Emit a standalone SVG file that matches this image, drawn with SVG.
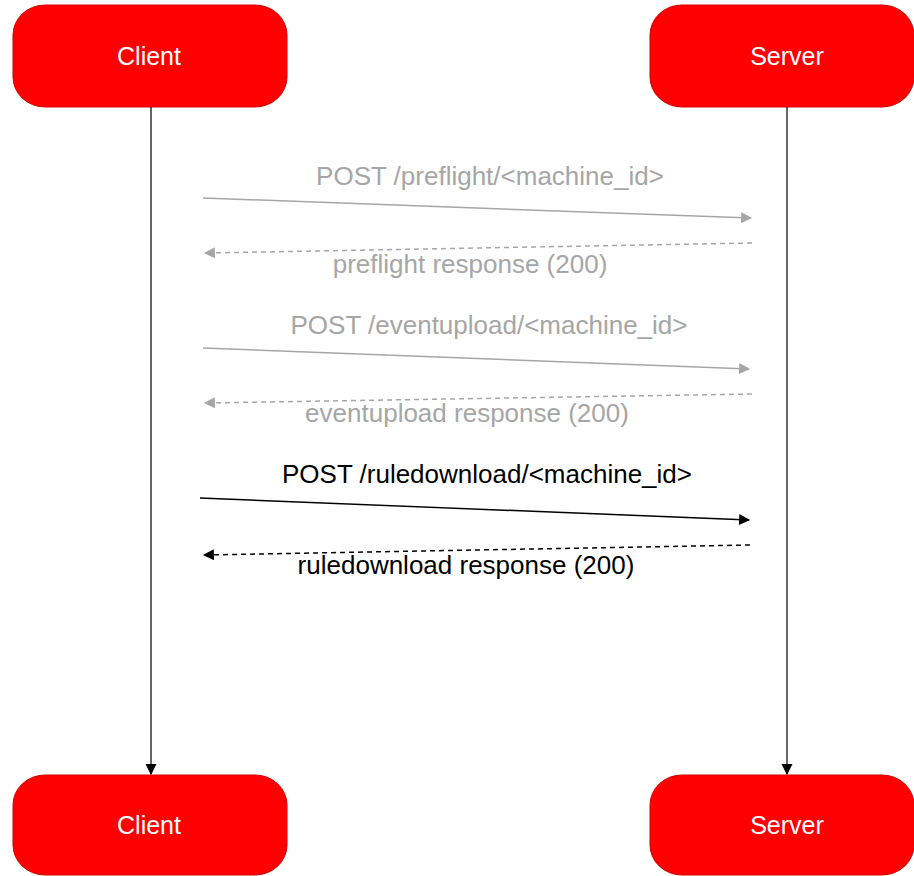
<svg xmlns="http://www.w3.org/2000/svg" width="914" height="876" viewBox="0 0 914 876">
<style>
.box{fill:#ff0000;stroke:#d40000;stroke-width:1}
.lbl{font-family:"Liberation Sans",Arial,sans-serif;font-size:25px;fill:#ffffff;text-anchor:middle}
.msg{font-family:"Liberation Sans",Arial,sans-serif;font-size:26px;text-anchor:middle}
.gray{fill:#a6a6a6}
.blk{fill:#000000}
</style>
<defs>
<marker id="ab" viewBox="0 0 10 10" refX="9" refY="5" markerWidth="11" markerHeight="14" markerUnits="userSpaceOnUse" orient="auto"><path d="M0,0 L10,5 L0,10 z" fill="#000"/></marker>
<marker id="ag" viewBox="0 0 10 10" refX="9" refY="5" markerWidth="13" markerHeight="11" markerUnits="userSpaceOnUse" orient="auto"><path d="M0,0 L10,5 L0,10 z" fill="#a6a6a6"/></marker>
<marker id="ak" viewBox="0 0 10 10" refX="9" refY="5" markerWidth="13" markerHeight="11" markerUnits="userSpaceOnUse" orient="auto"><path d="M0,0 L10,5 L0,10 z" fill="#000"/></marker>
</defs>
<rect width="914" height="876" fill="#fff"/>
<g id="client-top"><rect class="box" x="13" y="5" width="274" height="102" rx="32" ry="30"/><text class="lbl" x="149" y="65">Client</text></g>
<g id="server-top"><rect class="box" x="650" y="5" width="264" height="102" rx="32" ry="30"/><text class="lbl" x="787" y="65">Server</text></g>
<g id="client-bottom"><rect class="box" x="13" y="775" width="274" height="100" rx="32" ry="30"/><text class="lbl" x="149" y="834">Client</text></g>
<g id="server-bottom"><rect class="box" x="650" y="775" width="264" height="100" rx="32" ry="30"/><text class="lbl" x="787" y="834">Server</text></g>
<g id="connectors" fill="none">
<line x1="151" y1="107" x2="151" y2="774" stroke="#000" stroke-width="1.2" marker-end="url(#ab)"/>
<line x1="787" y1="107" x2="787" y2="774" stroke="#000" stroke-width="1.2" marker-end="url(#ab)"/>
<line x1="203" y1="198" x2="751" y2="218" stroke="#a6a6a6" stroke-width="1.5" marker-end="url(#ag)"/>
<line x1="752" y1="243" x2="205" y2="253" stroke="#a6a6a6" stroke-width="1.5" stroke-dasharray="5,4" marker-end="url(#ag)"/>
<line x1="203" y1="348" x2="749" y2="369" stroke="#a6a6a6" stroke-width="1.5" marker-end="url(#ag)"/>
<line x1="752" y1="394" x2="205" y2="403" stroke="#a6a6a6" stroke-width="1.5" stroke-dasharray="5,4" marker-end="url(#ag)"/>
<line x1="200" y1="498" x2="749" y2="520" stroke="#000" stroke-width="1.5" marker-end="url(#ak)"/>
<line x1="750" y1="545" x2="204" y2="555" stroke="#000" stroke-width="1.5" stroke-dasharray="5,4" marker-end="url(#ak)"/>
</g>
<g id="labels">
<text class="msg gray" x="490" y="185">POST /preflight/&lt;machine_id&gt;</text>
<text class="msg gray" x="470" y="273">preflight response (200)</text>
<text class="msg gray" x="489" y="334">POST /eventupload/&lt;machine_id&gt;</text>
<text class="msg gray" x="467" y="422">eventupload response (200)</text>
<text class="msg blk" x="487" y="483">POST /ruledownload/&lt;machine_id&gt;</text>
<text class="msg blk" x="466" y="574">ruledownload response (200)</text>
</g>
</svg>
